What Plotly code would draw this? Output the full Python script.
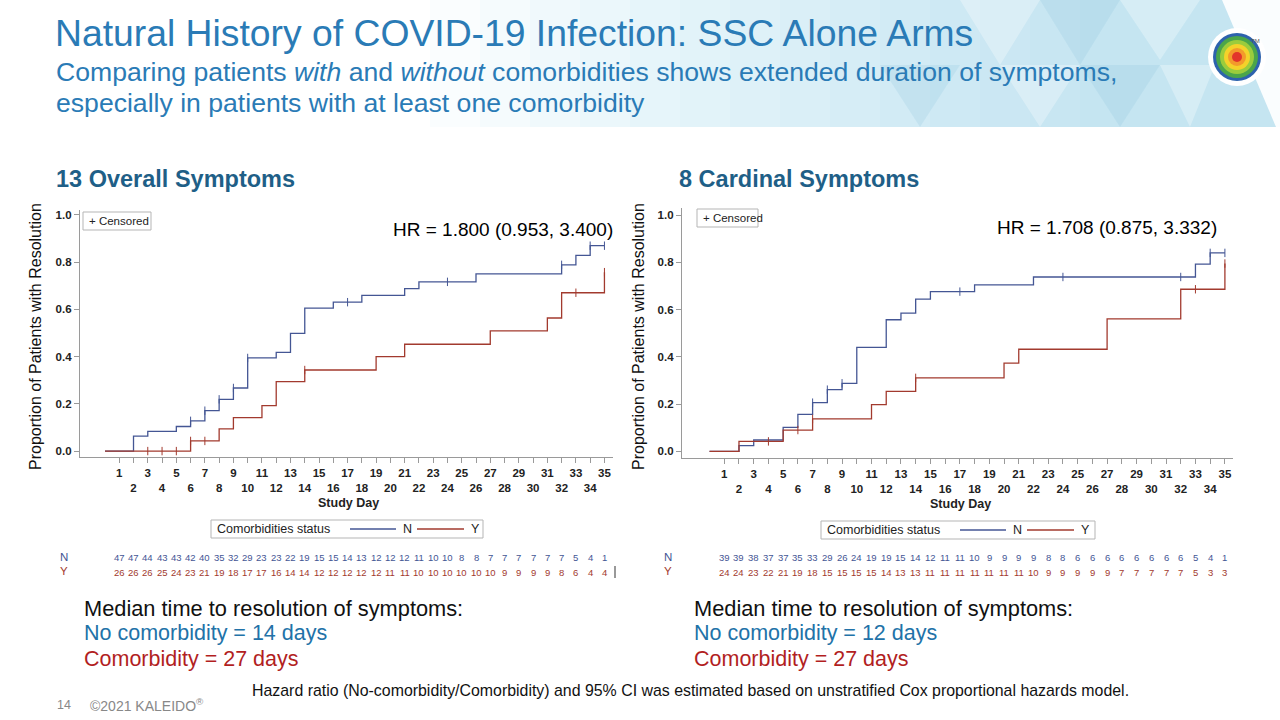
import plotly.graph_objects as go

# ---------------- DATA ----------------
days = list(range(1, 36))

# 13 Overall Symptoms (left)
left_N_time = [0, 2, 3, 5, 6, 7, 8, 9, 10, 12, 13, 14, 16, 18, 21, 22, 26, 32, 33, 34, 35]
left_N_prob = [0, 0.063, 0.083, 0.104, 0.128, 0.171, 0.219, 0.267, 0.394, 0.418, 0.498, 0.605,
               0.630, 0.659, 0.687, 0.716, 0.750, 0.788, 0.828, 0.869, 0.869]
left_N_cens = [6, 7, 8, 9, 10, 17, 24, 32, 34, 35]
left_Y_time = [0, 6, 8, 9, 11, 12, 14, 19, 21, 27, 31, 32, 35]
left_Y_prob = [0, 0.043, 0.094, 0.142, 0.192, 0.294, 0.343, 0.400, 0.452, 0.509, 0.563, 0.670, 0.757]
left_Y_cens = [3, 4, 5, 6, 7, 14, 33, 35]
left_N_risk = [47, 47, 44, 43, 43, 42, 40, 35, 32, 29, 23, 23, 22, 19, 15, 15, 14, 13, 12, 12,
               12, 11, 10, 10, 8, 8, 7, 7, 7, 7, 7, 7, 5, 4, 1]
left_Y_risk = [26, 26, 26, 25, 24, 23, 21, 19, 18, 17, 17, 16, 14, 14, 12, 12, 12, 12, 12, 11,
               11, 10, 10, 10, 10, 10, 10, 9, 9, 9, 9, 8, 6, 4, 4]
left_HR = "HR = 1.800 (0.953, 3.400)"

# 8 Cardinal Symptoms (right)
right_N_time = [0, 2, 3, 5, 6, 7, 8, 9, 10, 12, 13, 14, 15, 18, 22, 33, 34, 35]
right_N_prob = [0, 0.024, 0.048, 0.101, 0.156, 0.206, 0.261, 0.288, 0.440, 0.557, 0.585, 0.644,
                0.676, 0.705, 0.738, 0.792, 0.840, 0.840]
right_N_cens = [7, 8, 9, 17, 24, 32, 34, 35]
right_Y_time = [0, 2, 5, 7, 11, 12, 14, 20, 21, 27, 32, 35]
right_Y_prob = [0, 0.042, 0.090, 0.137, 0.198, 0.254, 0.311, 0.373, 0.432, 0.561, 0.686, 0.795]
right_Y_cens = [4, 6, 7, 14, 33, 35]
right_N_risk = [39, 39, 38, 37, 37, 35, 33, 29, 26, 24, 19, 19, 15, 14, 12, 11, 11, 10, 9, 9,
                9, 9, 8, 8, 6, 6, 6, 6, 6, 6, 6, 6, 5, 4, 1]
right_Y_risk = [24, 24, 23, 22, 21, 19, 18, 15, 15, 15, 15, 14, 13, 13, 11, 11, 11, 11, 11, 11,
                11, 10, 9, 9, 9, 9, 9, 7, 7, 7, 7, 7, 5, 3, 3]
right_HR = "HR = 1.708 (0.875, 3.332)"

yticks = [0, 0.2, 0.4, 0.6, 0.8, 1.0]

# ---------------- STYLE ----------------
W, H = 1280, 720
BLUE = "#445694"
RED = "#A23A2E"
TITLE = "#2a7bb6"
SECT = "#1f5f87"
AXC = "#9a9a9a"
FONT = "Liberation Sans, Arial, sans-serif"


def X(px):
    return px / W


def Y(py):
    return 1 - py / H


def step_at(times, probs, t):
    v = probs[0]
    for ti, pi in zip(times, probs):
        if ti <= t:
            v = pi
    return v


fig = go.Figure()

panels = [
    dict(xa="x", ya="y", Nt=left_N_time, Np=left_N_prob, Nc=left_N_cens,
         Yt=left_Y_time, Yp=left_Y_prob, Yc=left_Y_cens),
    dict(xa="x2", ya="y2", Nt=right_N_time, Np=right_N_prob, Nc=right_N_cens,
         Yt=right_Y_time, Yp=right_Y_prob, Yc=right_Y_cens),
]

for p in panels:
    for t, pr, c, col, nm in [(p["Nt"], p["Np"], p["Nc"], BLUE, "N"),
                              (p["Yt"], p["Yp"], p["Yc"], RED, "Y")]:
        fig.add_trace(go.Scatter(x=t, y=pr, mode="lines", line=dict(color=col, width=1.3, shape="hv"),
                                 xaxis=p["xa"], yaxis=p["ya"], name=nm, showlegend=False))
        fig.add_trace(go.Scatter(x=c, y=[step_at(t, pr, ci) for ci in c], mode="markers",
                                 marker=dict(symbol="line-ns", size=6, line=dict(color=col, width=1)),
                                 xaxis=p["xa"], yaxis=p["ya"], showlegend=False, cliponaxis=False))

ticktext = [str(d) if d % 2 == 1 else "<br>" + str(d) for d in days]

axis_common = dict(showgrid=False, zeroline=False, showline=True, linecolor=AXC, linewidth=1.2,
                   ticks="outside", ticklen=5, tickcolor=AXC, tickwidth=1, tickangle=0,
                   tickfont=dict(family=FONT, size=11.5, color="#222", weight="bold"))

fig.update_layout(
    width=W, height=H, margin=dict(l=0, r=0, t=0, b=0),
    paper_bgcolor="white", plot_bgcolor="rgba(0,0,0,0)", showlegend=False,
    xaxis=dict(domain=[X(80), X(613)], range=[-1.75, 35.6], tickvals=days, ticktext=ticktext,
               anchor="y", **axis_common),
    yaxis=dict(domain=[Y(457), Y(210)], range=[-0.025, 1.02], tickvals=yticks,
               ticktext=[f"{v:.1f}" for v in yticks], anchor="x", **axis_common),
    xaxis2=dict(domain=[X(682), X(1233)], range=[-1.87, 35.55], tickvals=days, ticktext=ticktext,
                anchor="y2", **axis_common),
    yaxis2=dict(domain=[Y(457.7), Y(208)], range=[-0.027, 1.03], tickvals=yticks,
                ticktext=[f"{v:.1f}" for v in yticks], anchor="x2", **axis_common),
)

shapes = []
ann = []


# ---------------- HEADER BACKGROUND ----------------
def poly(pts, color, op):
    path = "M " + " L ".join(f"{X(a):.5f},{Y(b):.5f}" for a, b in pts) + " Z"
    return dict(type="path", xref="paper", yref="paper", path=path, fillcolor=color, opacity=op,
                line=dict(width=0), layer="below")


for i in range(14):
    x0 = 430 + i * 50
    shapes.append(poly([(x0, 0), (1280, 0), (1280, 127), (x0, 127)], "#8cc8e0", 0.045))
tris = [
    [(960, 0), (1040, 0), (1000, 65)], [(1040, 0), (1120, 0), (1080, 65)],
    [(1000, 65), (1080, 65), (1040, 127)], [(1080, 65), (1160, 65), (1120, 127)],
    [(1120, 0), (1200, 0), (1160, 60)], [(880, 65), (960, 65), (920, 127)],
    [(1160, 65), (1215, 65), (1190, 127)],
]
for i, t in enumerate(tris):
    shapes.append(poly(t, "#7fbfda" if i % 2 else "#ffffff", 0.18 if i % 2 else 0.3))
shapes.append(poly([(1222, 0), (1280, 0), (1280, 127), (1276, 127)], "#ffffff", 0.9))
# logo
cx, cy = 1237, 57
for r, col in [(29, "#ffffff"), (24, "#2d62ad"), (21, "#4aa54a"), (17, "#9bcc3c"),
               (13, "#f4d22a"), (9, "#f39a2b"), (5, "#e2352b")]:
    shapes.append(dict(type="circle", xref="paper", yref="paper", x0=X(cx - r), x1=X(cx + r),
                       y0=Y(cy + r), y1=Y(cy - r), fillcolor=col, line=dict(width=0), layer="below"))
ann.append(dict(x=X(1262), y=Y(36), xref="paper", yref="paper", text="TM", showarrow=False,
                font=dict(size=6, color="#555", family=FONT)))


# ---------------- TITLES ----------------
def text(px, py, s, size, color="#000", anchor="left", bold=False, angle=0, family=FONT):
    ann.append(dict(x=X(px), y=Y(py), xref="paper", yref="paper", text=(f"<b>{s}</b>" if bold else s),
                    showarrow=False, xanchor=anchor, yanchor="middle", textangle=angle,
                    font=dict(size=size, color=color, family=family)))


text(53, 33, "Natural History of COVID-19 Infection: SSC Alone Arms", 37.3, TITLE)
text(54, 72, "Comparing patients <i>with</i> and <i>without</i> comorbidities shows extended duration of symptoms,",
     26.6, TITLE)
text(54, 103, "especially in patients with at least one comorbidity", 26.6, TITLE)
text(54, 179, "13 Overall Symptoms", 23.5, SECT, bold=True)
text(677, 179, "8 Cardinal Symptoms", 23.5, SECT, bold=True)

# ---------------- PANEL DECORATIONS ----------------
cfg = [
    dict(xa="x", ytitle_x=35, cens=(83, 151, 212, 230), hr=(615, 229, left_HR),
         study=(348, 503), leg=(211, 483, 520, 538), labx=64,
         Nr=left_N_risk, Yr=left_Y_risk, med_x=82, med=("14", "27")),
    dict(xa="x2", ytitle_x=638, cens=(697, 758, 209, 227), hr=(1219, 227, right_HR),
         study=(960, 504), leg=(821, 1095, 521, 539), labx=668,
         Nr=right_N_risk, Yr=right_Y_risk, med_x=692, med=("12", "27")),
]
for c in cfg:
    text(c["ytitle_x"], 337, "Proportion of Patients with Resolution", 16, "#111", anchor="center", angle=-90)
    x0, x1, y0, y1 = c["cens"]
    shapes.append(dict(type="rect", xref="paper", yref="paper", x0=X(x0), x1=X(x1), y0=Y(y1), y1=Y(y0),
                       line=dict(color="#b5b5b5", width=1), fillcolor="white"))
    text(x0 + 4, (y0 + y1) / 2, "+ Censored", 11.5, "#222")
    hx, hy, hs = c["hr"]
    text(hx, hy, hs, 19, "#000", anchor="right")
    text(c["study"][0], c["study"][1], "Study Day", 12.5, "#222", anchor="center", bold=True)
    lx0, lx1, ly0, ly1 = c["leg"]
    shapes.append(dict(type="rect", xref="paper", yref="paper", x0=X(lx0), x1=X(lx1), y0=Y(ly1), y1=Y(ly0),
                       line=dict(color="#b5b5b5", width=1), fillcolor="white"))
    ly = (ly0 + ly1) / 2
    text(lx0 + 4, ly, "Comorbidities status", 12.5, "#222")
    shapes.append(dict(type="line", xref="paper", yref="paper", x0=X(lx0 + 139), x1=X(lx0 + 185),
                       y0=Y(ly), y1=Y(ly), line=dict(color=BLUE, width=1.3)))
    text(lx0 + 190, ly, "N", 12.5, "#222")
    shapes.append(dict(type="line", xref="paper", yref="paper", x0=X(lx0 + 206), x1=X(lx0 + 253),
                       y0=Y(ly), y1=Y(ly), line=dict(color=RED, width=1.3)))
    text(lx0 + 258, ly, "Y", 12.5, "#222")
    # at-risk table
    text(c["labx"], 557, "N", 11.5, BLUE, anchor="center")
    text(c["labx"], 571, "Y", 11.5, RED, anchor="center")
    for d, nv, yv in zip(days, c["Nr"], c["Yr"]):
        ann.append(dict(x=d, y=Y(557), xref=c["xa"], yref="paper", text=str(nv), showarrow=False,
                        xanchor="center", yanchor="middle", font=dict(size=9.5, color=BLUE, family=FONT)))
        ann.append(dict(x=d, y=Y(572), xref=c["xa"], yref="paper", text=str(yv), showarrow=False,
                        xanchor="center", yanchor="middle", font=dict(size=9.5, color=RED, family=FONT)))
    # median text
    mx = c["med_x"]
    text(mx, 608, "Median time to resolution of symptoms:", 21.8, "#111")
    text(mx, 633, f"No comorbidity = {c['med'][0]} days", 21.5, "#2272a8")
    text(mx, 659, f"Comorbidity = {c['med'][1]} days", 21.5, "#b21f1f")

shapes.append(dict(type="line", xref="paper", yref="paper", x0=X(615), x1=X(615), y0=Y(578), y1=Y(566),
                   line=dict(color="#555", width=1.2)))

# ---------------- FOOTER ----------------
text(55, 705, "14", 12.5, "#888")
text(88, 705, "©2021 KALEIDO<sup>®</sup>", 14, "#888")
text(250, 690, "Hazard ratio (No-comorbidity/Comorbidity) and 95% CI was estimated based on unstratified Cox proportional hazards model.",
     15.9, "#111")

fig.update_layout(shapes=shapes, annotations=ann)
fig.write_html("out.html", config={"displayModeBar": False},
               post_script="document.body.style.margin='0';document.body.style.overflow='hidden';")
